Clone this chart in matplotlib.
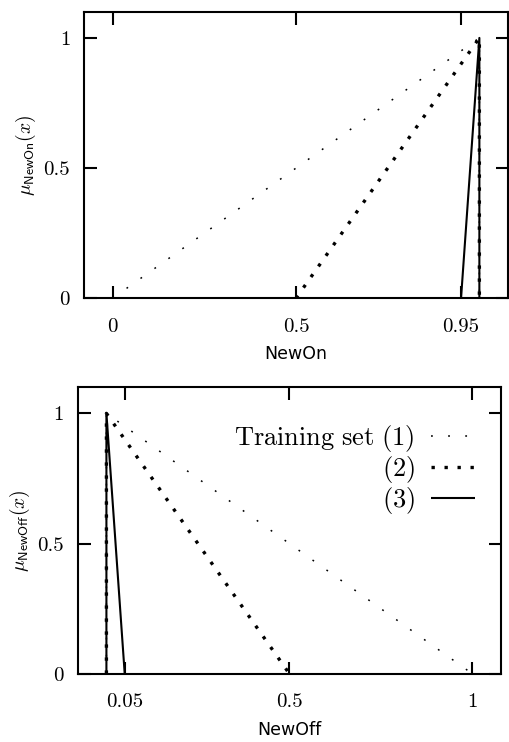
import matplotlib
matplotlib.use("Agg")
import matplotlib.pyplot as plt

plt.rcParams["mathtext.fontset"] = "cm"

# Membership functions, top panel (NewOn)
ON_S1_X = [0.0, 1.0, 1.0]
ON_S1_Y = [0.0, 1.0, 0.0]
ON_S2_X = [0.5, 1.0, 1.0]
ON_S2_Y = [0.0, 1.0, 0.0]
ON_S3_X = [0.95, 1.0, 1.0]
ON_S3_Y = [0.0, 1.0, 0.0]
ON_XTICKS = [0, 0.5, 0.95]
ON_XLABELS = ["0", "0.5", "0.95"]

# Membership functions, bottom panel (NewOff)
OFF_S1_X = [0.0, 0.0, 1.0]
OFF_S1_Y = [0.0, 1.0, 0.0]
OFF_S2_X = [0.0, 0.0, 0.5]
OFF_S2_Y = [0.0, 1.0, 0.0]
OFF_S3_X = [0.0, 0.0, 0.05]
OFF_S3_Y = [0.0, 1.0, 0.0]
OFF_XTICKS = [0.05, 0.5, 1]
OFF_XLABELS = ["0.05", "0.5", "1"]

YTICKS = [0, 0.5, 1]
YLABELS = ["0", "0.5", "1"]
SERIES_NAMES = [r"$\mathrm{Training\ set\ (1)}$", r"$\mathrm{(2)}$", r"$\mathrm{(3)}$"]

TICK_FONT = "cmr10"


def draw(ax, s1, s2, s3, xticks, xlabels, xname, yname):
    l1, = ax.plot(*s1, color="black", lw=1.1, dashes=(1.2, 10),
                  dash_capstyle="butt")
    l2, = ax.plot(*s2, color="black", lw=2.4, dashes=(1, 2.9),
                  dash_capstyle="butt")
    l3, = ax.plot(*s3, color="black", lw=1.5, solid_capstyle="butt")
    ax.set_xlim(-0.078, 1.078)
    ax.set_ylim(0, 1.1)
    ax.set_xticks(xticks)
    ax.set_xticklabels(xlabels, fontfamily=TICK_FONT, fontsize=15)
    ax.set_yticks(YTICKS)
    ax.set_yticklabels(YLABELS, fontfamily=TICK_FONT, fontsize=15)
    ax.tick_params(direction="in", length=9, width=1.5, top=True, right=True)
    ax.tick_params(axis="x", pad=14)
    ax.tick_params(axis="y", pad=10)
    for sp in ax.spines.values():
        sp.set_linewidth(1.5)
    ax.set_xlabel(xname, fontsize=12.5, labelpad=7)
    ax.set_ylabel(yname, fontsize=14, labelpad=4)
    return [l1, l2, l3]


fig = plt.figure(figsize=(5.09, 7.42), dpi=100)
ax1 = fig.add_axes([0.165, 0.598, 0.833, 0.386])
ax2 = fig.add_axes([0.153, 0.092, 0.831, 0.386])

draw(ax1, (ON_S1_X, ON_S1_Y), (ON_S2_X, ON_S2_Y), (ON_S3_X, ON_S3_Y),
     ON_XTICKS, ON_XLABELS, "NewOn", r"$\mu_{\mathsf{NewOn}}(x)$")
handles = draw(ax2, (OFF_S1_X, OFF_S1_Y), (OFF_S2_X, OFF_S2_Y),
               (OFF_S3_X, OFF_S3_Y), OFF_XTICKS, OFF_XLABELS, "NewOff",
               r"$\mu_{\mathsf{NewOff}}(x)$")

ax2.legend(handles, SERIES_NAMES, loc="upper right", bbox_to_anchor=(0.94, 0.875),
           frameon=False, markerfirst=False, fontsize=19, handlelength=1.7,
           handletextpad=0.6, labelspacing=0.0, borderpad=0, borderaxespad=0)

fig.savefig("out.png", dpi=100)
